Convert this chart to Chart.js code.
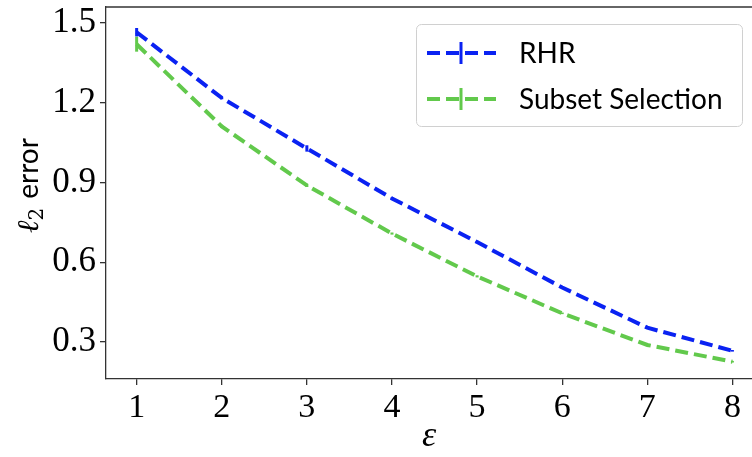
<!DOCTYPE html>
<html>
<head>
<meta charset="utf-8">
<script src="https://cdn.jsdelivr.net/npm/chart.js@4"></script>
<style>
  html, body { margin: 0; padding: 0; background: #fff; overflow: hidden; }
</style>
</head>
<body>
<canvas id="chart" width="752" height="457"></canvas>
<script>
// epsilon values along the x axis
const epsilons = [1, 2, 3, 4, 5, 6, 7, 8];

// l2 error per method
const rhrError = [1.465, 1.218, 1.028, 0.840, 0.676, 0.505, 0.354, 0.267];
const rhrSpread = [0.016, 0.005, 0.012, 0.004, 0.004, 0.003, 0.003, 0.003];
const subsetError = [1.420, 1.111, 0.889, 0.708, 0.547, 0.408, 0.289, 0.226];
const subsetSpread = [0.028, 0.006, 0.006, 0.004, 0.004, 0.003, 0.003, 0.003];

// tick labels
const xTicks = [1, 2, 3, 4, 5, 6, 7, 8];
const yTicks = [0.3, 0.6, 0.9, 1.2, 1.5];

const blue = '#0a22f2';
const green = '#62c94c';
const axisColor = '#333333';

// draws the vertical error bars through the scales
const errorBars = {
    id: 'errorBars',
    afterDatasetsDraw(chart) {
        const ctx = chart.ctx;
        const xs = chart.scales.x, ys = chart.scales.y;
        chart.data.datasets.forEach(ds => {
            ctx.save();
            ctx.strokeStyle = ds.borderColor;
            ctx.lineWidth = 3;
            ds.data.forEach((p, i) => {
                const e = ds.spread[i];
                const px = xs.getPixelForValue(p.x);
                ctx.beginPath();
                ctx.moveTo(px, ys.getPixelForValue(p.y - e));
                ctx.lineTo(px, ys.getPixelForValue(p.y + e));
                ctx.stroke();
            });
            ctx.restore();
        });
    }
};

// top spine, y title (mixed fonts) and legend box inside the plot
const frameAndLegend = {
    id: 'frameAndLegend',
    afterDraw(chart) {
        const ctx = chart.ctx;
        const area = chart.chartArea;
        ctx.save();
        ctx.strokeStyle = axisColor;
        ctx.lineWidth = 1.3;
        ctx.beginPath();
        ctx.moveTo(area.left, area.top);
        ctx.lineTo(area.right, area.top);
        ctx.stroke();

        // y axis title: "ℓ₂ error"
        ctx.save();
        ctx.translate(38, 233);
        ctx.rotate(-Math.PI / 2);
        ctx.fillStyle = '#000';
        ctx.textBaseline = 'alphabetic';
        ctx.textAlign = 'left';
        let x = 0;
        ctx.font = 'italic 30px "DejaVu Serif"';
        ctx.fillText('ℓ', x, 0);
        x += ctx.measureText('ℓ').width;
        ctx.font = '20px "DejaVu Serif"';
        ctx.fillText('2', x, 5);
        x += ctx.measureText('2').width + 9;
        ctx.font = '28px Lato';
        ctx.fillText('error', x, 0);
        ctx.restore();

        // legend
        const bx = 416, by = 24, bw = 326, bh = 102;
        ctx.fillStyle = 'rgba(255,255,255,0.8)';
        ctx.strokeStyle = '#d0d0d0';
        ctx.lineWidth = 1;
        ctx.beginPath();
        ctx.roundRect(bx + 0.5, by + 0.5, bw, bh, 5);
        ctx.fill();
        ctx.stroke();

        chart.data.datasets.forEach((ds, i) => {
            const cy = by + 29 + i * 46;
            ctx.strokeStyle = ds.borderColor;
            ctx.lineWidth = 4;
            ctx.setLineDash([13, 6]);
            ctx.beginPath();
            ctx.moveTo(427, cy);
            ctx.lineTo(496, cy);
            ctx.stroke();
            ctx.setLineDash([]);
            ctx.lineWidth = 3;
            ctx.beginPath();
            ctx.moveTo(461, cy - 11);
            ctx.lineTo(461, cy + 11);
            ctx.stroke();
            ctx.fillStyle = '#000';
            ctx.font = '28px Lato';
            ctx.textBaseline = 'middle';
            ctx.fillText(ds.label, 519, cy + 1);
        });
        ctx.restore();
    }
};

new Chart(document.getElementById('chart').getContext('2d'), {
    type: 'line',
    data: {
        datasets: [
            {
                label: 'RHR',
                data: epsilons.map((x, i) => ({ x: x, y: rhrError[i] })),
                spread: rhrSpread,
                borderColor: blue
            },
            {
                label: 'Subset Selection',
                data: epsilons.map((x, i) => ({ x: x, y: subsetError[i] })),
                spread: subsetSpread,
                borderColor: green
            }
        ].map(ds => Object.assign(ds, {
            borderWidth: 4,
            borderDash: [13, 6],
            pointRadius: 0,
            tension: 0,
            fill: false
        }))
    },
    options: {
        responsive: false,
        animation: false,
        devicePixelRatio: 1,
        layout: { padding: { left: 0, right: 0, top: 7, bottom: 0 } },
        plugins: {
            legend: { display: false },
            tooltip: { enabled: false }
        },
        scales: {
            x: {
                type: 'linear',
                min: 0.64,
                max: 8.23,
                afterBuildTicks: scale => { scale.ticks = xTicks.map(v => ({ value: v })); },
                afterFit: scale => { scale.height = 78; scale.paddingLeft = 0; scale.paddingRight = 0; },
                grid: { drawOnChartArea: false, drawTicks: true, tickLength: 6, color: axisColor, lineWidth: 1.3 },
                border: { display: true, color: axisColor, width: 1.3 },
                ticks: {
                    color: '#000',
                    padding: 3,
                    maxRotation: 0,
                    font: { family: 'Liberation Serif', size: 34 }
                },
                title: {
                    display: true,
                    text: 'ε',
                    color: '#000',
                    padding: { top: 0, bottom: 2 },
                    font: { family: 'Liberation Serif', size: 36, style: 'italic', lineHeight: 1 }
                }
            },
            y: {
                min: 0.161,
                max: 1.56,
                afterBuildTicks: scale => { scale.ticks = yTicks.map(v => ({ value: v })); },
                afterFit: scale => { scale.width = 106; scale.paddingTop = 0; scale.paddingBottom = 0; },
                grid: { drawOnChartArea: false, drawTicks: true, tickLength: 6, color: axisColor, lineWidth: 1.3 },
                border: { display: true, color: axisColor, width: 1.3 },
                ticks: {
                    color: '#000',
                    padding: 4,
                    callback: v => v.toFixed(1),
                    font: { family: 'Liberation Serif', size: 35 }
                }
            }
        }
    },
    plugins: [errorBars, frameAndLegend]
});
</script>
</body>
</html>
